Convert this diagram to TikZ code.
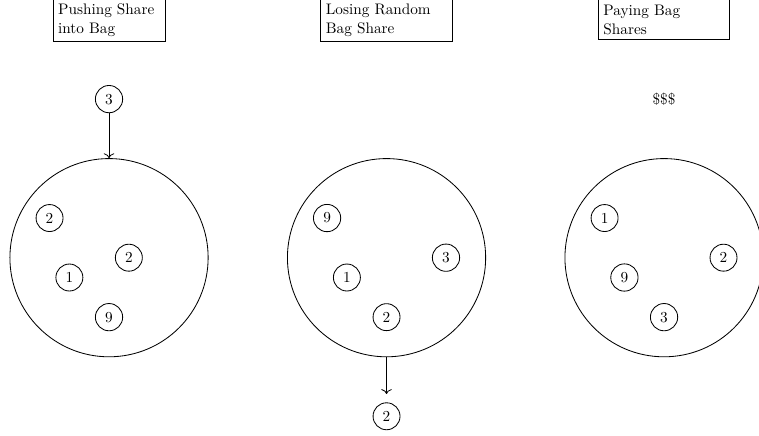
\documentclass[tikz,border=0pt,11pt]{standalone}
\usepackage{amsmath}
\usetikzlibrary{arrows.meta}
\tikzset{>={To[length=3.5pt, width=7.5pt]}}
\tikzset{bag/.style={circle, draw, minimum size=5cm},
         share/.style={circle, draw},
         caption/.style={draw, align=left, text width=#1}}

\begin{document}
\begin{tikzpicture}[x=0.5cm, y=0.5cm, semithick]
    \useasboundingbox (-5.5,-8.95) rectangle (32.79,13);
    % pushing a share into the bag
    \node [caption=73pt] (cap1) at (0,12) {Pushing Share into Bag};
    \node [share] (in1) at (0,8) {3};
    \node [bag] (bag1) at (0,0) {};
    \node [share] (s11) at (-3,2) {2};
    \node [share] (s12) at (1,0) {2};
    \node [share] (s13) at (-2,-1) {1};
    \node [share] (s14) at (0,-3) {9};
    \draw [->] (in1) -- (bag1);
    % losing a random share
    \node [caption=87pt] (cap2) at (14,12) {Losing Random Bag Share};
    \node [bag] (bag2) at (14,0) {};
    \node [share] (s21) at (11,2) {9};
    \node [share] (s22) at (17,0) {3};
    \node [share] (s23) at (12,-1) {1};
    \node [share] (s24) at (14,-3) {2};
    \node [share] (out2) at (14,-8) {2};
    \draw [->, shorten >=6pt] (bag2) -- (out2);
    % paying the shares
    \node [caption=87pt] (cap3) at (28,12) {Paying Bag Shares};
    \node (pay3) at (28,8) {\$\$\$};
    \node [bag] (bag3) at (28,0) {};
    \node [share] (s31) at (25,2) {1};
    \node [share] (s32) at (31,0) {2};
    \node [share] (s33) at (26,-1) {9};
    \node [share] (s34) at (28,-3) {3};
\end{tikzpicture}
\end{document}
